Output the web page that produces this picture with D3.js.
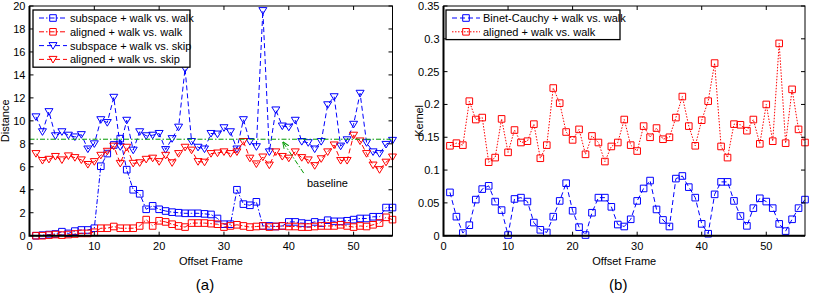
<!DOCTYPE html>
<html lang="en">
<head>
    <meta charset="UTF-8">
    <title>Offset Frame</title>
    <style type="text/css">
        body { margin: 0; background: #fff; }
        svg text { font-family: "Liberation Sans", Arial, sans-serif; fill: #000; }
    </style>
</head>
<body>

<svg width="819" height="296"></svg>

<script src="https://d3js.org/d3.v7.min.js"></script>

<script>
    // offset frames 1..56
    var frames = d3.range(1, 57);

    // (a) distance
    var subspaceWalk = [0.0, 0.05, 0.1, 0.15, 0.35, 0.2, 0.4, 0.5, 0.5, 0.65,
        6.05, 7.15, 7.9, 8.45, 5.75, 4.0, 3.65, 2.3, 2.6, 2.3,
        2.15, 2.05, 2.0, 1.95, 1.95, 1.95, 1.9, 1.85, 1.5, 1.0,
        1.0, 4.0, 2.75, 2.65, 2.95, 0.85, 0.85, 0.8, 0.85, 1.2,
        1.2, 1.1, 1.05, 1.2, 1.1, 1.35, 1.25, 1.25, 1.3, 1.4,
        1.5, 1.5, 1.65, 1.65, 2.45, 2.45];
    var alignedWalk = [0.0, 0.0, 0.05, 0.1, 0.05, 0.1, 0.15, 0.2, 0.2, 0.3,
        0.65, 0.65, 0.8, 0.65, 0.65, 0.65, 0.85, 1.4, 0.85, 1.3,
        1.2, 1.0, 0.85, 0.75, 1.1, 1.1, 1.1, 1.05, 1.0, 0.75,
        0.85, 0.95, 0.85, 0.75, 0.8, 0.85, 0.75, 0.8, 0.85, 0.8,
        0.8, 0.75, 0.75, 0.8, 0.85, 0.85, 0.85, 0.95, 0.85, 0.75,
        0.85, 0.8, 0.95, 1.1, 1.6, 1.4];
    var subspaceSkip = [10.35, 9.05, 10.8, 8.7, 9.05, 8.75, 8.6, 8.8, 7.55, 8.0,
        10.1, 9.85, 12.05, 7.75, 10.05, 7.45, 9.05, 8.7, 8.75, 8.9,
        7.5, 8.45, 9.45, 14.55, 8.2, 7.7, 7.55, 8.9, 8.85, 9.4,
        9.05, 7.55, 10.1, 8.2, 7.75, 19.6, 7.3, 10.95, 9.55, 9.45,
        10.05, 8.2, 8.1, 7.55, 8.2, 11.4, 12.1, 7.8, 8.35, 9.7,
        12.4, 8.1, 7.3, 7.15, 7.95, 8.3];
    var alignedSkip = [7.15, 6.55, 6.65, 6.9, 6.6, 6.95, 6.8, 6.6, 6.2, 6.45,
        7.0, 7.35, 7.8, 6.3, 7.7, 6.3, 6.35, 6.65, 6.75, 6.45,
        7.0, 6.35, 7.15, 7.7, 7.45, 6.45, 6.4, 7.15, 7.2, 7.3,
        7.15, 7.3, 8.2, 6.75, 6.25, 6.85, 6.15, 7.3, 6.9, 6.75,
        7.3, 6.8, 6.6, 6.1, 6.7, 7.3, 7.9, 6.55, 6.55, 8.75,
        8.25, 7.15, 6.15, 5.75, 6.4, 6.85];
    var baselineValue = 8.4;

    // (b) kernel
    var binetCauchyWalk = [0.066, 0.029, 0.004, 0.016, 0.055, 0.071, 0.076, 0.052, 0.039, 0.001,
        0.056, 0.058, 0.052, 0.02, 0.009, 0.005, 0.029, 0.053, 0.08, 0.038,
        0.013, 0.001, 0.035, 0.058, 0.058, 0.044, 0.017, 0.014, 0.025, 0.053,
        0.072, 0.084, 0.040, 0.024, 0.014, 0.087, 0.091, 0.074, 0.058, 0.018,
        0.003, 0.063, 0.082, 0.082, 0.053, 0.030, 0.015, 0.042, 0.057, 0.052,
        0.042, 0.018, 0.007, 0.025, 0.042, 0.055];
    var alignedKernelWalk = [0.137, 0.141, 0.138, 0.205, 0.177, 0.18, 0.112, 0.119, 0.178, 0.127,
        0.161, 0.142, 0.144, 0.17, 0.118, 0.138, 0.225, 0.202, 0.158, 0.146,
        0.162, 0.124, 0.152, 0.142, 0.113, 0.136, 0.142, 0.177, 0.138, 0.129,
        0.167, 0.15, 0.164, 0.147, 0.15, 0.18, 0.212, 0.167, 0.137, 0.176,
        0.205, 0.263, 0.136, 0.119, 0.17, 0.169, 0.16, 0.177, 0.14, 0.2,
        0.144, 0.293, 0.141, 0.223, 0.162, 0.142];

    var xTicks = [0, 10, 20, 30, 40, 50];
    var distTicks = [0, 2, 4, 6, 8, 10, 12, 14, 16, 18, 20];
    var kernelTicks = [0, 0.05, 0.1, 0.15, 0.2, 0.25, 0.3, 0.35];

    var BLUE = "#0000ff", RED = "#ff0000", GREEN = "#009900";
    var DASHDOT = "5,2,1.5,2", DASHED = "5,3", DOTTED = "1.5,1.5";

    var svg = d3.select("svg");

    // arrowhead for the baseline note
    svg.append("defs").append("marker")
            .attr("id", "arrow")
            .attr("viewBox", "0 0 10 10")
            .attr("refX", 9).attr("refY", 5)
            .attr("markerWidth", 7).attr("markerHeight", 7)
            .attr("orient", "auto")
            .append("path")
            .attr("d", "M0,1 L10,5 L0,9")
            .attr("fill", "none")
            .attr("stroke", GREEN)
            .attr("stroke-width", 1.3);

    function symbolPath(kind) {
        if (kind === "square") return "M-3.3,-3.3H3.3V3.3H-3.3Z";
        return "M-4,-3H4L0,3.6Z";   // downward triangle
    }

    function drawPanel(p) {
        var g = svg.append("g");
        var x = d3.scaleLinear().domain([0, 56]).range([p.left, p.right]);
        var y = d3.scaleLinear().domain(p.yDomain).range([p.bottom, p.top]);

        // series
        p.series.forEach(function (s) {
            var pts = frames.map(function (f, i) { return [f, s.values[i]]; });
            g.append("path")
                    .attr("d", d3.line().x(function (d) { return x(d[0]); })
                            .y(function (d) { return y(d[1]); })(pts))
                    .attr("fill", "none")
                    .attr("stroke", s.color)
                    .attr("stroke-width", 1)
                    .attr("stroke-dasharray", s.dash);
            g.selectAll(null).data(pts).enter().append("path")
                    .attr("transform", function (d) { return "translate(" + x(d[0]) + "," + y(d[1]) + ")"; })
                    .attr("d", symbolPath(s.marker))
                    .attr("fill", "none")
                    .attr("stroke", s.color)
                    .attr("stroke-width", 1);
        });

        if (p.extra) p.extra(g, x, y);

        // axes box, ticks inside like matlab
        var tickLen = 4;
        g.append("rect")
                .attr("x", p.left).attr("y", p.top)
                .attr("width", p.right - p.left).attr("height", p.bottom - p.top)
                .attr("fill", "none").attr("stroke", "#000").attr("stroke-width", 1);
        g.append("path")
                .attr("d", "M" + p.left + "," + p.top + "V" + p.bottom + "H" + p.right)
                .attr("fill", "none").attr("stroke", "#000").attr("stroke-width", 2);

        xTicks.forEach(function (t) {
            var px = x(t);
            g.append("path").attr("d", "M" + px + "," + p.bottom + "v" + (-tickLen) +
                    "M" + px + "," + p.top + "v" + tickLen)
                    .attr("stroke", "#000").attr("stroke-width", 1);
            g.append("text").attr("x", px).attr("y", p.bottom + 14)
                    .attr("text-anchor", "middle").style("font-size", "11px").text(t);
        });
        p.yTicks.forEach(function (t) {
            var py = y(t);
            g.append("path").attr("d", "M" + p.left + "," + py + "h" + tickLen +
                    "M" + p.right + "," + py + "h" + (-tickLen))
                    .attr("stroke", "#000").attr("stroke-width", 1);
            g.append("text").attr("x", p.left - 4).attr("y", py + 4)
                    .attr("text-anchor", "end").style("font-size", "11px").text(t);
        });

        g.append("text").attr("x", (p.left + p.right) / 2).attr("y", p.bottom + 29)
                .attr("text-anchor", "middle").style("font-size", "11px").text("Offset Frame");
        g.append("text")
                .attr("transform", "translate(" + (p.left - 21) + "," + ((p.top + p.bottom) / 2) + ") rotate(-90)")
                .attr("text-anchor", "middle").style("font-size", "11px").text(p.yLabel);
        g.append("text").attr("x", (p.left + p.right) / 2 - 6).attr("y", 290)
                .attr("text-anchor", "middle").style("font-size", "15px").text(p.caption);

        // legend
        var lg = g.append("g");
        var step = 13.8;
        lg.append("rect")
                .attr("x", p.legend.x).attr("y", p.legend.y)
                .attr("width", p.legend.w).attr("height", step * p.series.length + 2)
                .attr("fill", "#fff").attr("stroke", "#000").attr("stroke-width", 1.3);
        p.series.forEach(function (s, i) {
            var cy = p.legend.y + 8 + i * step;
            var x0 = p.legend.x + 6, x1 = x0 + 28;
            lg.append("line").attr("x1", x0).attr("x2", x1).attr("y1", cy).attr("y2", cy)
                    .attr("stroke", s.color).attr("stroke-dasharray", s.dash);
            lg.append("path").attr("transform", "translate(" + ((x0 + x1) / 2) + "," + cy + ")")
                    .attr("d", symbolPath(s.marker))
                    .attr("fill", "none").attr("stroke", s.color);
            lg.append("text").attr("x", x1 + 3).attr("y", cy + 4)
                    .style("font-size", "11px").text(s.name);
        });
    }

    drawPanel({
        left: 29.5, right: 392.5, top: 6, bottom: 235.7,
        yDomain: [0, 20], yTicks: distTicks, yLabel: "Distance", caption: "(a)",
        legend: {x: 33, y: 10, w: 157},
        series: [
            {name: "subspace + walk vs. walk", values: subspaceWalk, color: BLUE, dash: DASHDOT, marker: "square"},
            {name: "aligned + walk vs. walk", values: alignedWalk, color: RED, dash: DASHDOT, marker: "square"},
            {name: "subspace + walk vs. skip", values: subspaceSkip, color: BLUE, dash: DASHED, marker: "triangle"},
            {name: "aligned + walk vs. skip", values: alignedSkip, color: RED, dash: DASHED, marker: "triangle"}
        ],
        extra: function (g, x, y) {
            g.append("line")
                    .attr("x1", x(0)).attr("x2", x(56))
                    .attr("y1", y(baselineValue)).attr("y2", y(baselineValue))
                    .attr("stroke", GREEN).attr("stroke-width", 1).attr("stroke-dasharray", DASHDOT);
            g.append("line")
                    .attr("x1", x(42.3)).attr("y1", y(5.45))
                    .attr("x2", x(39.1)).attr("y2", y(8.15))
                    .attr("stroke", GREEN).attr("stroke-width", 1).attr("stroke-dasharray", DASHDOT)
                    .attr("marker-end", "url(#arrow)");
            g.append("text").attr("x", x(42.8)).attr("y", y(4.2))
                    .style("font-size", "11px").text("baseline");
        }
    });

    drawPanel({
        left: 443.5, right: 805, top: 6, bottom: 235.7,
        yDomain: [0, 0.35], yTicks: kernelTicks, yLabel: "Kernel", caption: "(b)",
        legend: {x: 446, y: 10, w: 174},
        series: [
            {name: "Binet-Cauchy + walk vs. walk", values: binetCauchyWalk, color: BLUE, dash: DASHED, marker: "square"},
            {name: "aligned + walk vs. walk", values: alignedKernelWalk, color: RED, dash: DOTTED, marker: "square"}
        ]
    });
</script>

</body>
</html>
